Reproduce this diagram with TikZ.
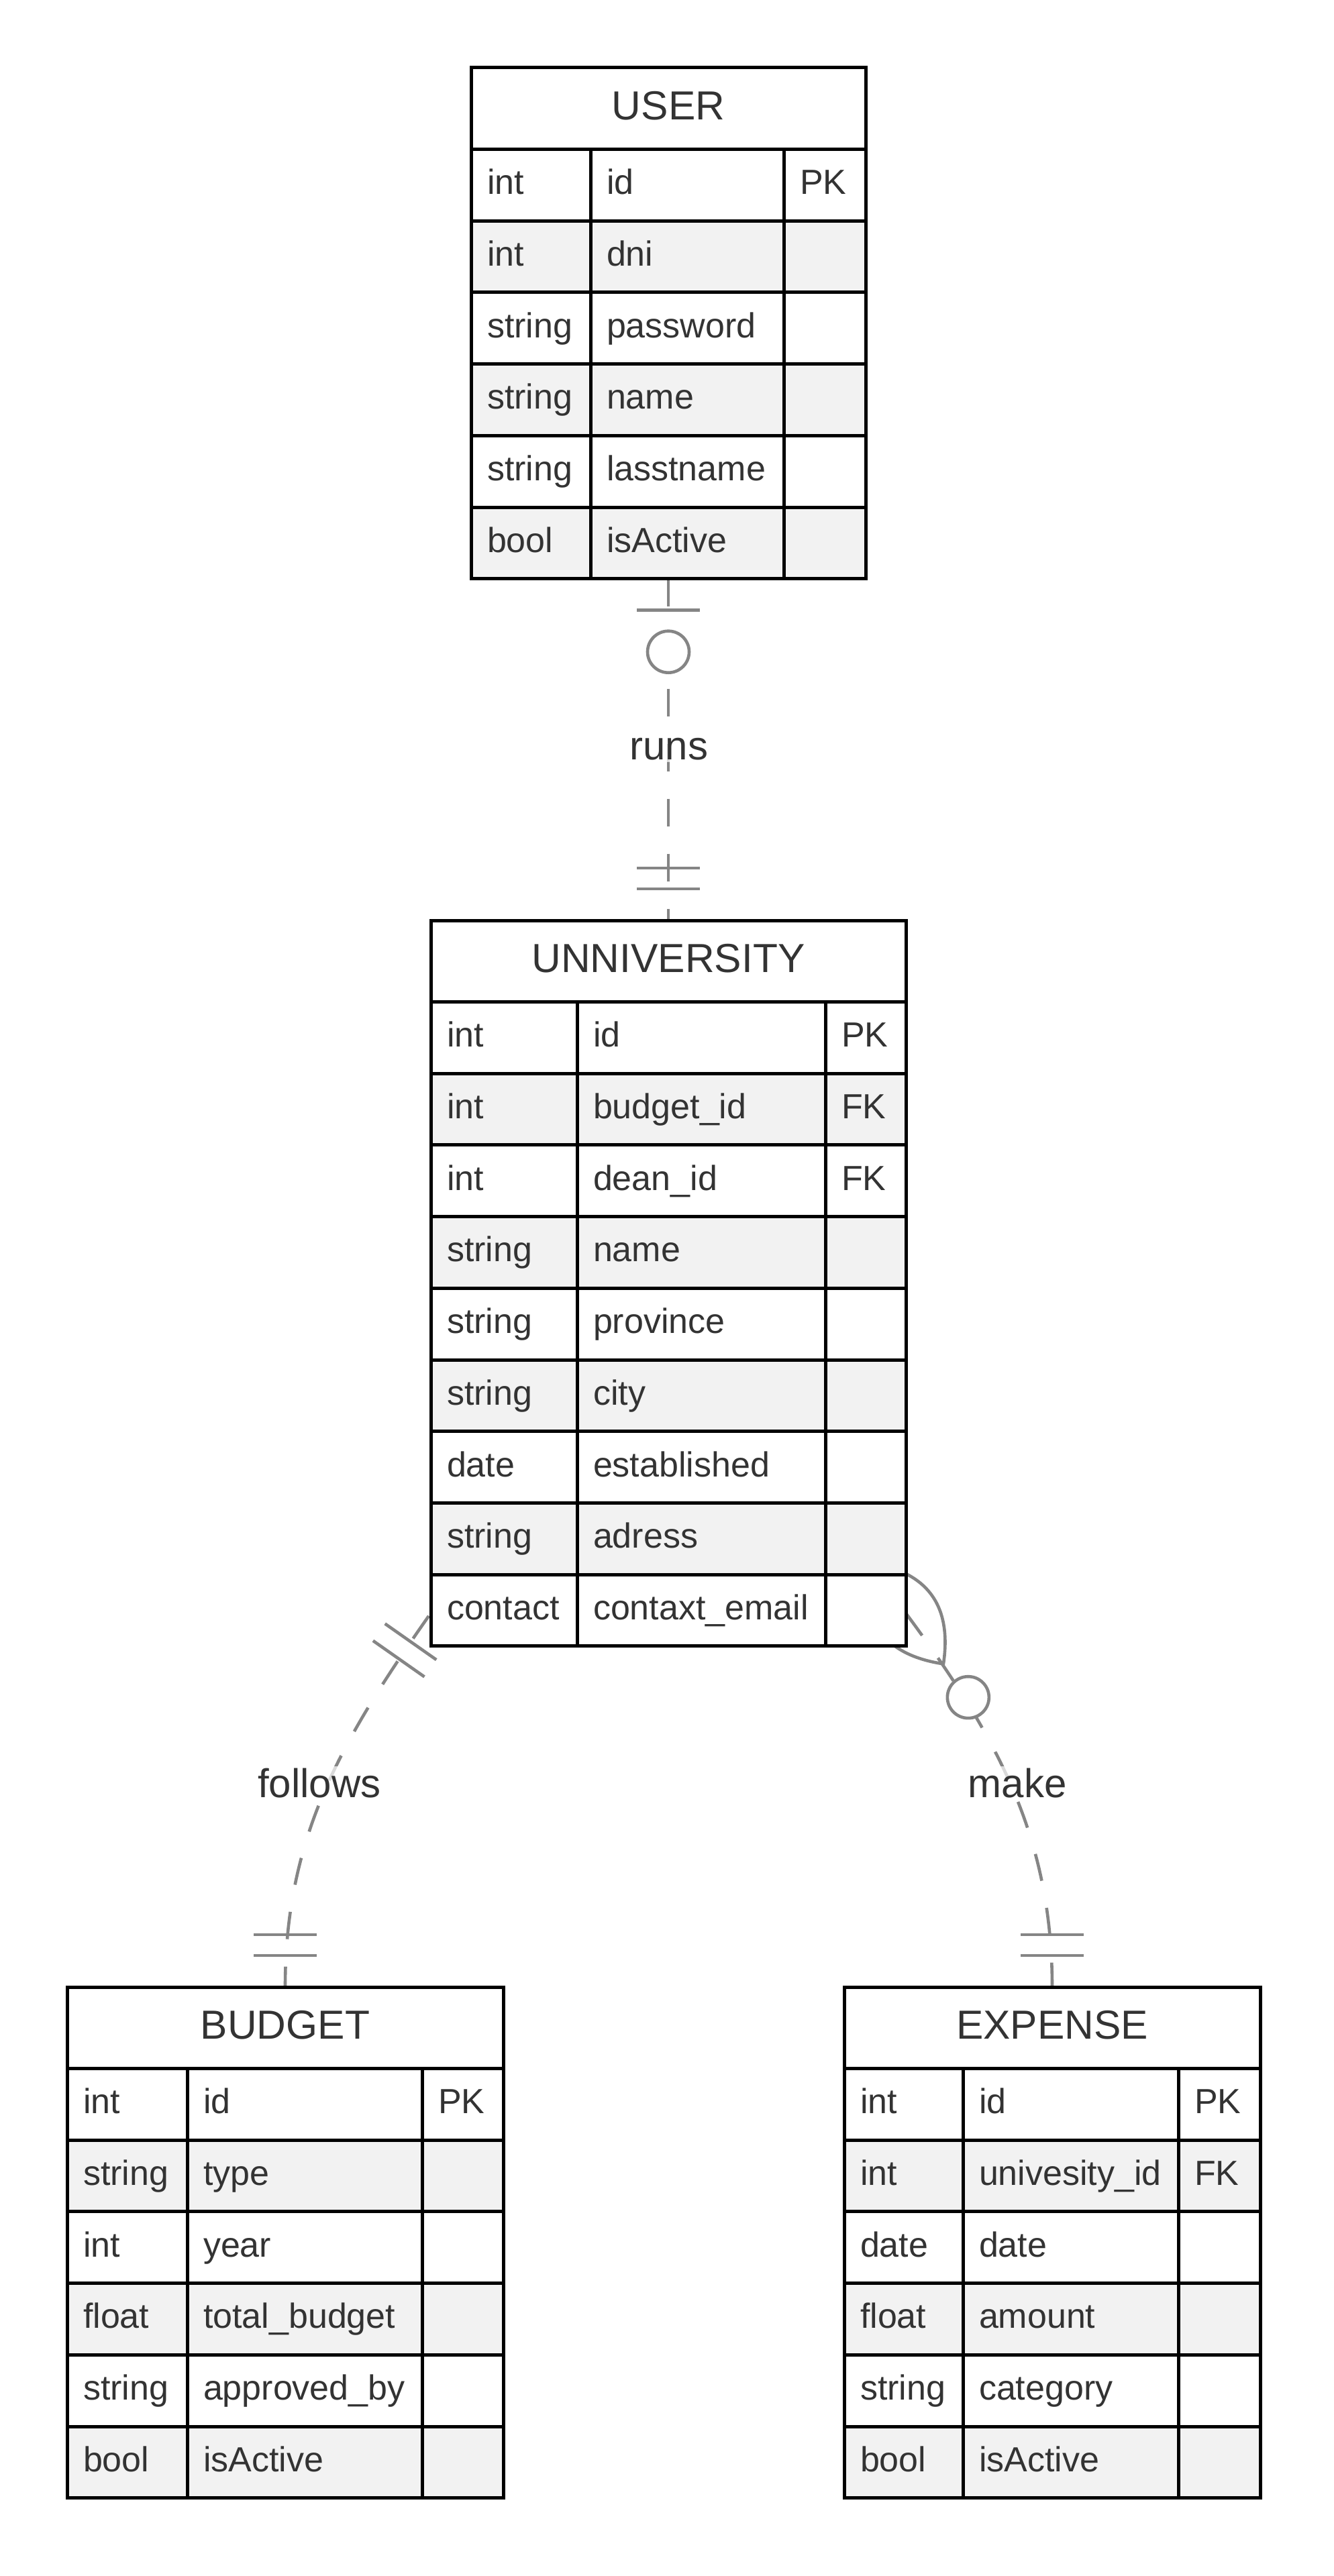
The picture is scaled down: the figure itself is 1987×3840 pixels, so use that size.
\documentclass[tikz,border=0pt]{standalone}
\usepackage{fontspec}
\setmainfont{Liberation Sans}
\usetikzlibrary{calc,fit}
\definecolor{txt}{HTML}{333333}
\definecolor{rowgray}{HTML}{F2F2F2}
\definecolor{conncol}{HTML}{858585}
\pgfdeclarelayer{bg}
\pgfsetlayers{bg,main}
\tikzset{
  cellbase/.style={draw=black, line width=5pt, outer sep=0pt, inner ysep=0pt, inner xsep=24pt,
    minimum height=106.7pt, text height=40pt, text depth=12pt, align=left, text=txt,
    font=\fontsize{52}{60}\selectfont, anchor=north west},
  hdr/.style={draw=black, line width=5pt, outer sep=0pt, inner sep=0pt, minimum height=121.5pt,
    text height=46pt, text depth=13pt, fill=white, text=txt, font=\fontsize{60.5}{70}\selectfont,
    anchor=north west},
  relline/.style={draw=conncol, line width=4.6pt, dash pattern=on 41pt off 41pt},
  erbar/.style={draw=conncol, line width=4.6pt},
  lbl/.style={font=\fontsize{60}{70}\selectfont, text=txt, fill=white, fill opacity=0.7,
    text opacity=1, inner sep=3pt, anchor=base},
  tbl/.style={inner sep=0pt, outer sep=0pt}
}
\newcommand\ertable[9]{%
  \pgfmathsetmacro\tw{#4+#5+#6}%
  \pgfmathsetmacro\xb{#2+#4}%
  \pgfmathsetmacro\xc{#2+#4+#5}%
  \pgfmathsetmacro\wa{#4-48}%
  \pgfmathsetmacro\wb{#5-48}%
  \pgfmathsetmacro\wc{#6-48}%
  \node[hdr, minimum width=\tw pt] (#1-h) at (#2,#3) {#7};
  \foreach \ta/\tb/\tc [count=\ti] in {#8}{%
    \pgfmathsetmacro\yy{#3+121.5+(\ti-1)*106.7}%
    \ifodd\ti\relax\def\rf{white}\else\def\rf{rowgray}\fi
    \node[cellbase, fill=\rf, text width=\wa pt] (#1-\ti-1) at (#2,\yy) {\mbox{\ta}};
    \node[cellbase, fill=\rf, text width=\wb pt] (#1-\ti-2) at (\xb,\yy) {\mbox{\tb}};
    \node[cellbase, fill=\rf, text width=\wc pt] (#1-\ti-3) at (\xc,\yy) {\mbox{\tc}};
  }
  \node[tbl, fit=(#1-h)(#1-#9-3)] (#1) {};
}
\begin{document}
\begin{tikzpicture}[x=1pt,y=-1pt]
\useasboundingbox (0,0) rectangle (1987,3840);

% tables
\ertable{user}{702}{101}{178}{288}{122}{USER}{int/id/PK, int/dni/{}, string/password/{}, string/name/{}, string/lasstname/{}, bool/isActive/{}}{6}
\ertable{univ}{642}{1372}{218}{370}{120}{UNNIVERSITY}{int/id/PK, int/budget\_id/FK, int/dean\_id/FK, string/name/{}, string/province/{}, string/city/{}, date/established/{}, string/adress/{}, contact/contaxt\_email/{}}{9}
\ertable{budget}{100}{2962}{179}{350}{121}{BUDGET}{int/id/PK, string/type/{}, int/year/{}, float/total\_budget/{}, string/approved\_by/{}, bool/isActive/{}}{6}
\ertable{expense}{1258}{2962}{177}{321}{122}{EXPENSE}{int/id/PK, int/univesity\_id/FK, date/date/{}, float/amount/{}, string/category/{}, bool/isActive/{}}{6}

\begin{pgfonlayer}{bg}
\fill[white] (0,0) rectangle (1987,3840);

% runs: USER |o--|| UNNIVERSITY
\draw[relline] (user.south) -- (univ.north);
\draw[erbar] ($(user.south)+(-46.8,47)$) -- ++(93.6,0);
\draw[erbar, fill=white] ($(user.south)+(0,109)$) circle[radius=31];
\draw[erbar] ($(univ.north)+(-46.8,-47)$) -- ++(93.6,0);
\draw[erbar] ($(univ.north)+(-46.8,-78)$) -- ++(93.6,0);
\node[lbl] (runs) at (997,1132) {runs};

% follows: UNNIVERSITY ||--|| BUDGET
\coordinate (fs) at ($(univ.south west)+(-3,-45)$);
\coordinate (fc1) at ($(fs)+(-132,188)$);
\coordinate (fc2) at ($(budget.north)+(0,-222)$);
\draw[relline] (fs) .. controls (fc1) and (fc2) .. (budget.north);
\coordinate (fb1) at ($(fs)!47pt!(fc1)$);
\coordinate (fb2) at ($(fs)!78pt!(fc1)$);
\draw[erbar] ($(fb1)!46.8pt!90:(fs)$) -- ($(fb1)!46.8pt!-90:(fs)$);
\draw[erbar] ($(fb2)!46.8pt!90:(fs)$) -- ($(fb2)!46.8pt!-90:(fs)$);
\draw[erbar] ($(budget.north)+(-46.8,-47)$) -- ++(93.6,0);
\draw[erbar] ($(budget.north)+(-46.8,-78)$) -- ++(93.6,0);
\node[lbl] (follows) at (476,2679) {follows};

% make: UNNIVERSITY }o--|| EXPENSE
\coordinate (ms) at ($(univ.south east)+(0,-49)$);
\coordinate (mc1) at ($(ms)+(137,185)$);
\coordinate (mc2) at ($(expense.north)+(0,-222)$);
\draw[relline] (ms) .. controls (mc1) and (mc2) .. (expense.north);
\coordinate (mj) at ($(ms)!94pt!(mc1)$);
\coordinate (mt) at ($(ms)!-94pt!(mc1)$);
\coordinate (mq1) at ($(ms)!94pt!90:(mc1)$);
\coordinate (mq2) at ($(ms)!94pt!-90:(mc1)$);
\draw[erbar] (mt) .. controls ($(mt)!2/3!(mq1)$) and ($(mj)!2/3!(mq1)$) .. (mj)
  .. controls ($(mj)!2/3!(mq2)$) and ($(mt)!2/3!(mq2)$) .. (mt);
\draw[erbar, fill=white] ($(ms)!156pt!(mc1)$) circle[radius=31];
\draw[erbar] ($(expense.north)+(-46.8,-47)$) -- ++(93.6,0);
\draw[erbar] ($(expense.north)+(-46.8,-78)$) -- ++(93.6,0);
\node[lbl] (make) at (1516,2679) {make};
\end{pgfonlayer}
\end{tikzpicture}
\end{document}
